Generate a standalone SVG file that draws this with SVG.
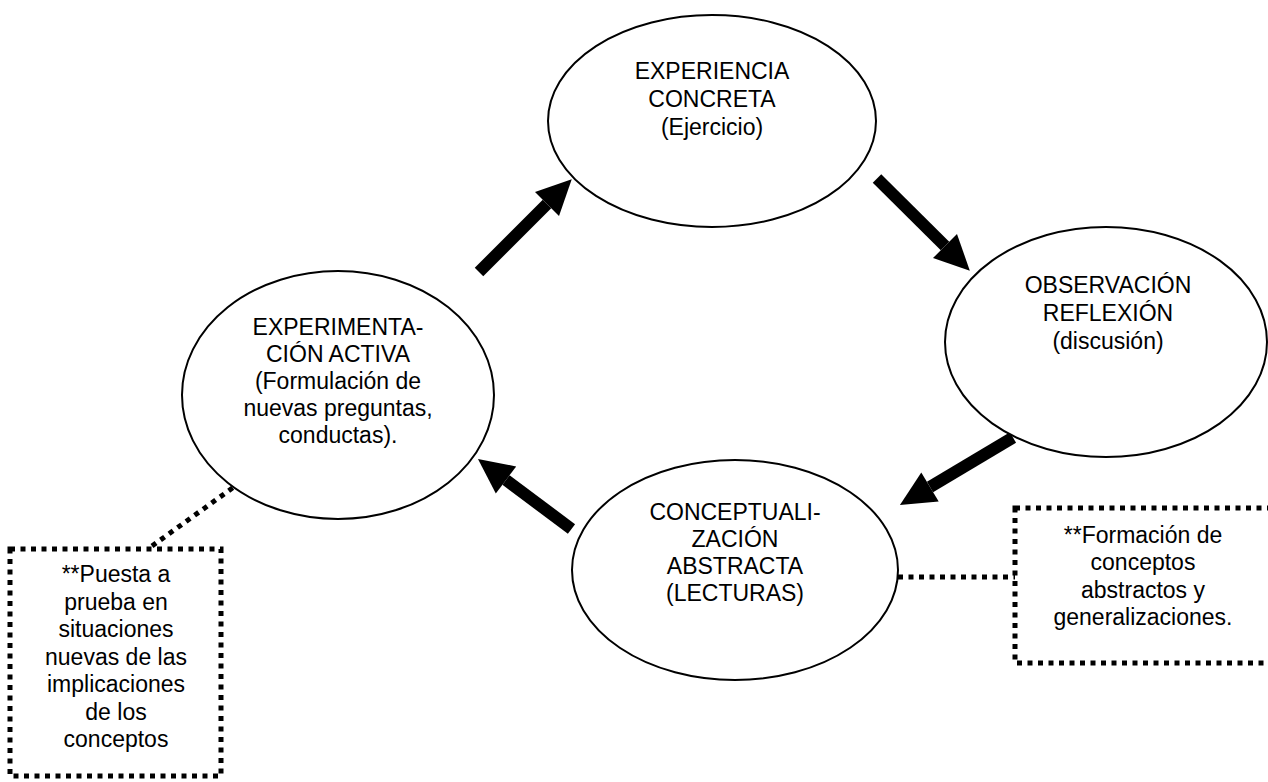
<svg xmlns="http://www.w3.org/2000/svg" width="1268" height="782" viewBox="0 0 1268 782">
<style>
.node ellipse{fill:#fff;stroke:#000;stroke-width:2}
.t{font-family:"Liberation Sans",Arial,sans-serif;font-size:23px;fill:#000;text-anchor:middle}
.dot{fill:none;stroke:#000;stroke-width:5;stroke-dasharray:5 5.5}
.arr{stroke:#000;stroke-width:12;fill:none;marker-end:url(#head)}
</style>
<defs>
<marker id="head" markerUnits="userSpaceOnUse" markerWidth="40" markerHeight="40" viewBox="0 -20 40 40" refX="0" refY="0" orient="auto" overflow="visible">
<path d="M0,-17 L35,0 L0,17 Z" fill="#000"/>
</marker>
</defs>
<rect width="1268" height="782" fill="#fff"/>
<g id="connectors">
<line class="arr" x1="479" y1="272" x2="547" y2="204"/>
<line class="arr" x1="877" y1="178.5" x2="945" y2="246"/>
<line class="arr" x1="1013" y1="437.5" x2="930" y2="487"/>
<line class="arr" x1="571.5" y1="529" x2="506" y2="480"/>
<line class="dot" x1="152" y1="546" x2="238" y2="484"/>
<line class="dot" x1="898" y1="577" x2="1015" y2="577"/>
</g>
<g id="n1" class="node">
<ellipse cx="712" cy="121" rx="164" ry="106"/>
<text class="t" x="712" y="79">EXPERIENCIA</text>
<text class="t" x="712" y="107">CONCRETA</text>
<text class="t" x="712" y="135">(Ejercicio)</text>
</g>
<g id="n2" class="node">
<ellipse cx="1106" cy="342" rx="161" ry="115"/>
<text class="t" x="1108" y="293">OBSERVACIÓN</text>
<text class="t" x="1108" y="321">REFLEXIÓN</text>
<text class="t" x="1108" y="349">(discusión)</text>
</g>
<g id="n3" class="node">
<ellipse cx="735" cy="570" rx="163" ry="110"/>
<text class="t" x="735" y="520">CONCEPTUALI-</text>
<text class="t" x="735" y="547">ZACIÓN</text>
<text class="t" x="735" y="574">ABSTRACTA</text>
<text class="t" x="735" y="601">(LECTURAS)</text>
</g>
<g id="n4" class="node">
<ellipse cx="338" cy="395" rx="156" ry="124"/>
<text class="t" x="338" y="335">EXPERIMENTA-</text>
<text class="t" x="338" y="362">CIÓN ACTIVA</text>
<text class="t" x="338" y="389">(Formulación de</text>
<text class="t" x="338" y="416">nuevas preguntas,</text>
<text class="t" x="338" y="443">conductas).</text>
</g>
<g id="b1">
<rect class="dot" x="10" y="549" width="211" height="227"/>
<text class="t" x="116" y="582">**Puesta a</text>
<text class="t" x="116" y="610">prueba en</text>
<text class="t" x="116" y="637">situaciones</text>
<text class="t" x="116" y="665">nuevas de las</text>
<text class="t" x="116" y="692">implicaciones</text>
<text class="t" x="116" y="720">de los</text>
<text class="t" x="116" y="747">conceptos</text>
</g>
<g id="b2">
<rect class="dot" x="1015" y="508" width="262" height="155"/>
<text class="t" x="1143" y="543">**Formación de</text>
<text class="t" x="1143" y="570">conceptos</text>
<text class="t" x="1143" y="598">abstractos y</text>
<text class="t" x="1143" y="625">generalizaciones.</text>
</g>
</svg>
